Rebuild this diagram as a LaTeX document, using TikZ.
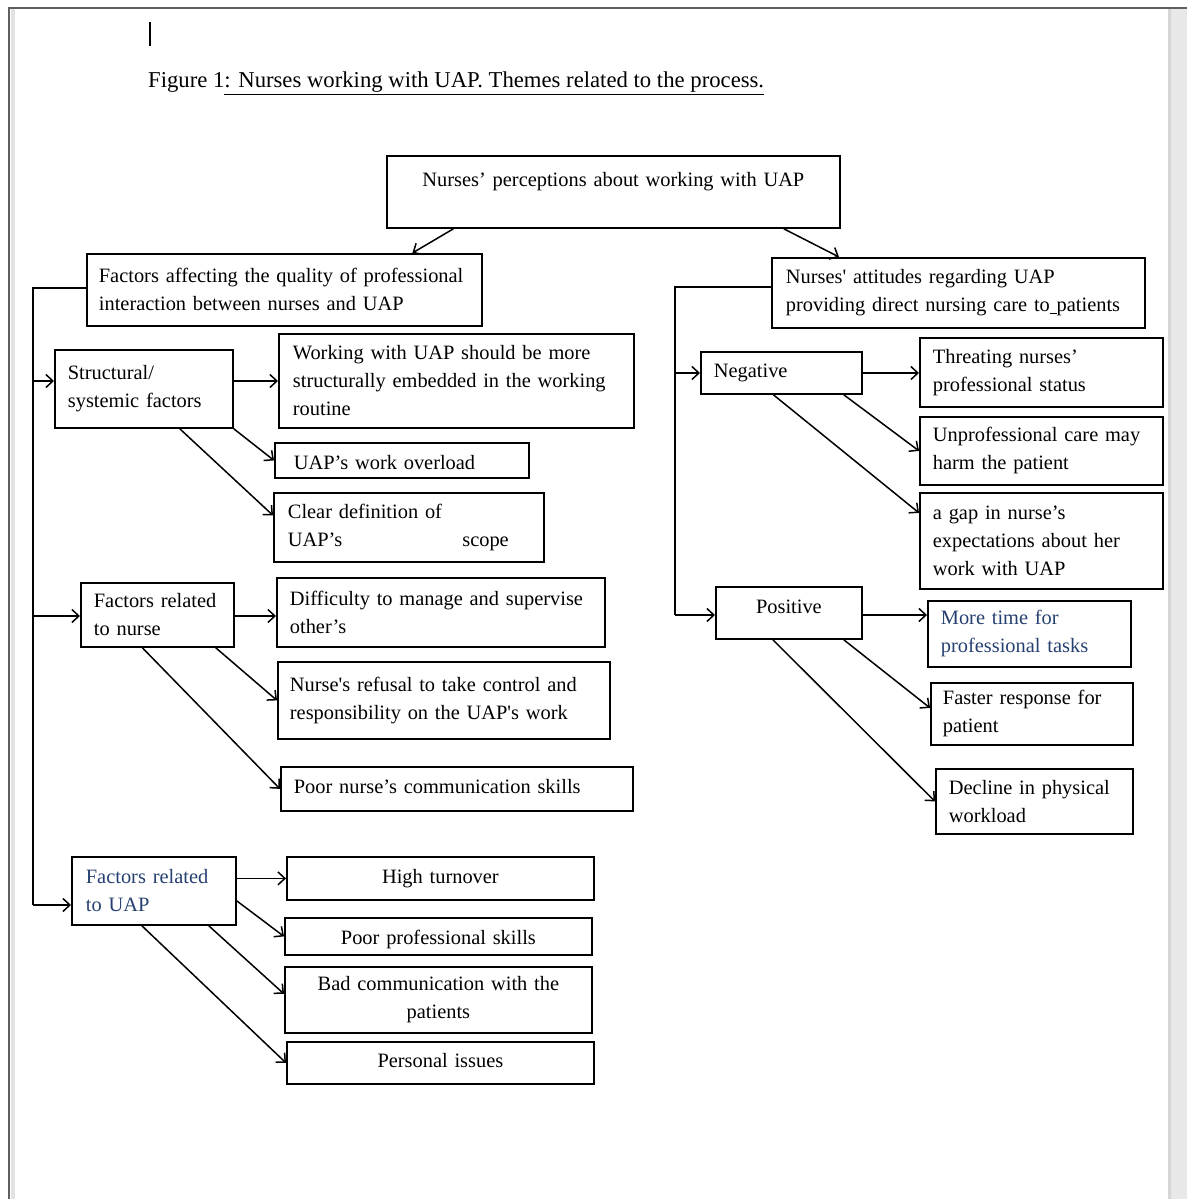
\documentclass[tikz,border=0pt]{standalone}
\usepackage{fontspec}
\setmainfont{Liberation Serif}
\usetikzlibrary{arrows.meta}
\definecolor{wordblue}{RGB}{37,64,112}
\definecolor{pageline}{RGB}{95,95,95}
\newcommand{\sq}{\textquotesingle}

\begin{document}
\begin{tikzpicture}[x=1pt,y=-1pt,
      box/.style={draw, line width=1.8pt, anchor=north west, inner xsep=13pt, inner ysep=0pt, align=left,
        font=\fontsize{20.4}{28}\selectfont},
      cbox/.style={box, align=center},
      arr/.style={line width=1.5pt, -{Straight Barb[length=7pt,width=13pt,line width=1.5pt]}},
      link/.style={line width=1.5pt}
      ]
      \useasboundingbox (0,0) rectangle (1187,1199);
      \fill[gray!18] (1168,9) rectangle (1187,1199);
      \fill[gray!32] (1168,9) rectangle (1171,1199);
      \fill[gray!22] (11,9) rectangle (15,1199);
      \draw[pageline, line width=2pt] (9,1199) -- (9,8) -- (1187,8);
      \draw[line width=1.4pt] (150,22) -- (150,46);
      \node (caption) [anchor=base west, inner sep=0pt, font=\fontsize{22.7}{28}\selectfont] at (148,88)
      {Figure 1\underline{: Nurses working with UAP. Themes related to the process.}};

      \node (percep) [cbox, text width=427pt, text height=31pt, text depth=41pt] at (386,155) {Nurses’ perceptions about working with UAP};
      \node (interact) [box, inner xsep=12pt, text width=371pt, minimum height=72pt] at (86,253)
      {Factors affecting the quality of professional\\ interaction between nurses and UAP};
      \node (attitude) [box, inner xsep=14pt, text width=345pt, minimum height=70pt] at (771,257)
      {Nurses\sq{} attitudes regarding UAP\\ providing direct nursing care to\underline{\ }patients};
      \draw[arr] ([xshift=-160pt]percep.south) -- ([xshift=128pt]interact.north);
      \draw[arr] ([xshift=-57pt]percep.south east) -- ([xshift=68pt]attitude.north west);

      \coordinate (ltop) at (33,288);
      \coordinate (l1) at (33,381);
      \coordinate (l2) at (33,616);
      \coordinate (l3) at (33,905);
      \draw[link] (interact.west |- ltop) -- (ltop) -- (l3);

      \node (struct) [box, text width=152pt, minimum height=78pt] at (54,349) {Structural/\\ systemic factors};
      \draw[arr] (l1) -- (l1 -| struct.west);
      \node (embed) [box, inner xsep=14pt, text width=327pt, minimum height=94pt] at (278,333)
      {Working with UAP should be more\\ structurally embedded in the working\\ routine};
      \draw[arr] (l1 -| struct.east) -- (l1 -| embed.west);
      \node (overload) [box, inner xsep=19pt, text width=216pt, text height=27pt, text depth=8pt] at (274,442) {UAP’s work overload};
      \draw[arr] (struct.south east) -- (overload.west);
      \node (clear) [box, inner xsep=14pt, text width=242pt, minimum height=69pt] at (273,492)
      {Clear definition of\\ UAP’s\hspace*{120pt}scope};
      \draw[arr] ([xshift=-54pt]struct.south east) -- ([yshift=12pt]clear.west);

      \node (nurse) [box, text width=127pt, minimum height=64pt] at (80,582) {Factors related\\ to nurse};
      \draw[arr] (l2) -- (l2 -| nurse.west);
      \node (difficulty) [box, text width=302pt, minimum height=69pt] at (276,577)
      {Difficulty to manage and supervise\\ other’s};
      \draw[arr] (l2 -| nurse.east) -- (l2 -| difficulty.west);
      \node (refusal) [box, inner xsep=12pt, text width=308pt, minimum height=77pt] at (277,661)
      {Nurse\sq s refusal to take control and\\ responsibility on the UAP\sq s work};
      \draw[arr] ([xshift=-19pt]nurse.south east) -- (refusal.west);
      \node (poorcomm) [box, text width=326pt, text height=27pt, text depth=17pt] at (280,766) {Poor nurse’s communication skills};
      \draw[arr] ([xshift=-15pt]nurse.south) -- (poorcomm.west);

      \node (uap) [box, inner xsep=14pt, text width=136pt, minimum height=68pt, text=wordblue] at (71,856) {Factors related\\ to UAP};
      \draw[arr] (l3) -- (l3 -| uap.west);
      \node (turnover) [cbox, text width=281pt, text height=27pt, text depth=16pt] at (286,856) {High turnover};
      \draw[arr] (uap.east |- turnover.west) -- (turnover.west);
      \node (skills) [cbox, text width=281pt, text height=27pt, text depth=10pt] at (284,917) {Poor professional skills};
      \draw[arr] ([yshift=-10pt]uap.east) -- (skills.west);
      \node (badcomm) [cbox, text width=281pt, minimum height=66pt] at (284,966) {Bad communication with the\\ patients};
      \draw[arr] ([xshift=-28pt]uap.south east) -- ([yshift=6pt]badcomm.west);
      \node (personal) [cbox, text width=281pt, text height=26pt, text depth=16pt] at (286,1041) {Personal issues};
      \draw[arr] ([xshift=-12pt]uap.south) -- (personal.west);

      \coordinate (rtop) at (675,287);
      \coordinate (r1) at (675,373);
      \coordinate (r2) at (675,615);
      \draw[link] (attitude.west |- rtop) -- (rtop) -- (r2);

      \node (negative) [box, text width=135pt, text height=26pt, text depth=16pt] at (700,351) {Negative};
      \draw[arr] (r1) -- (r1 -| negative.west);
      \node (threat) [box, text width=217pt, minimum height=69pt] at (919,337) {Threating nurses’\\ professional status};
      \draw[arr] (r1 -| negative.east) -- (r1 -| threat.west);
      \node (unprof) [box, text width=217pt, minimum height=68pt] at (919,416) {Unprofessional care may\\ harm the patient};
      \draw[arr] ([xshift=-19pt]negative.south east) -- (unprof.west);
      \node (gap) [box, text width=217pt, minimum height=96pt] at (919,492)
      {a gap in nurse’s\\ expectations about her\\ work with UAP};
      \draw[arr] ([xshift=-8pt]negative.south) -- ([yshift=28pt]gap.west);

      \node (positive) [cbox, text width=120pt, text height=27pt, text depth=25pt] at (715,586) {Positive};
      \draw[arr] (r2) -- (r2 -| positive.west);
      \node (moretime) [box, text width=177pt, minimum height=66pt, text=wordblue] at (927,600) {More time for\\ professional tasks};
      \draw[arr] (r2 -| positive.east) -- (r2 -| moretime.west);
      \node (faster) [box, inner xsep=12pt, text width=178pt, minimum height=62pt] at (930,682) {Faster response for\\ patient};
      \draw[arr] ([xshift=-19pt]positive.south east) -- ([yshift=6pt]faster.west);
      \node (decline) [box, text width=171pt, minimum height=65pt] at (935,768) {Decline in physical\\ workload};
      \draw[arr] ([xshift=-16pt]positive.south) -- (decline.west);
    \end{tikzpicture}
\end{document}
